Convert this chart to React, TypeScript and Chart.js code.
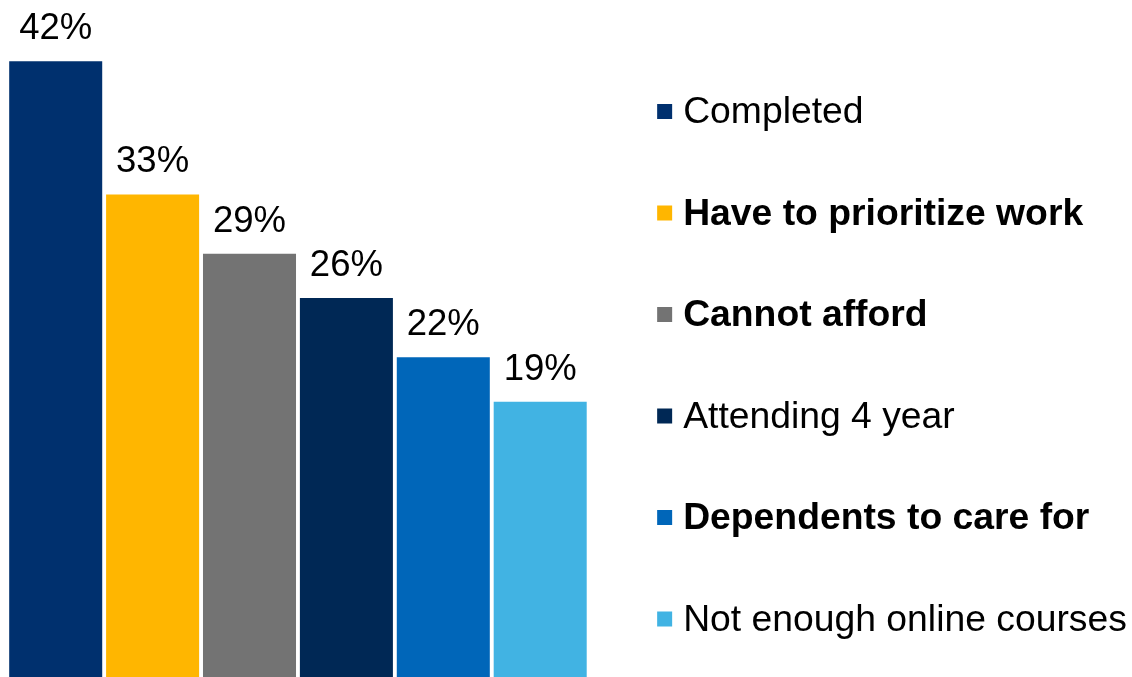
import React, { useEffect, useRef } from "react";
import { Chart, registerables } from "chart.js";

Chart.register(...registerables);

const categories = [
  "Completed",
  "Have to prioritize work",
  "Cannot afford",
  "Attending 4 year",
  "Dependents to care for",
  "Not enough online courses",
];
const values = [42, 33, 29, 26, 22, 19];
const colors = ["#00306E", "#FFB600", "#737373", "#002855", "#0066B9", "#41B3E3"];
const boldLegend = [false, true, true, false, true, false];
const valueLabels = values.map((v) => `${v}%`);

const FONT = "'Liberation Sans', Arial, Helvetica, sans-serif";

const labelPlugin = {
  id: "valueLabels",
  afterDatasetsDraw(chart: any) {
    const ctx = chart.ctx;
    const meta = chart.getDatasetMeta(0);
    ctx.save();
    ctx.font = `36.5px ${FONT}`;
    ctx.fillStyle = "#000000";
    ctx.textAlign = "center";
    ctx.textBaseline = "alphabetic";
    meta.data.forEach((el: any, i: number) => {
      ctx.fillText(valueLabels[i], el.x, el.y - 22);
    });
    ctx.restore();
  },
};

const legendPlugin = {
  id: "sideLegend",
  afterDraw(chart: any) {
    const ctx = chart.ctx;
    const left = chart.chartArea.right + 68.5;
    ctx.save();
    ctx.textAlign = "left";
    ctx.textBaseline = "alphabetic";
    categories.forEach((cat, i) => {
      const cy = 111.5 + 101.5 * i;
      ctx.fillStyle = colors[i];
      ctx.fillRect(left, cy - 7.5, 15, 15);
      ctx.fillStyle = "#000000";
      ctx.font = `${boldLegend[i] ? "bold " : ""}37.3px ${FONT}`;
      ctx.fillText(cat, left + 26, cy + 11.5);
    });
    ctx.restore();
  },
};

export default function App() {
  const ref = useRef<HTMLCanvasElement | null>(null);

  useEffect(() => {
    document.body.style.margin = "0";
    document.body.style.overflow = "hidden";
    const canvas = ref.current;
    if (!canvas) return;
    const chart = new Chart(canvas, {
      type: "bar",
      data: {
        labels: categories,
        datasets: [
          {
            data: values,
            backgroundColor: colors,
            borderWidth: 0,
            barPercentage: 0.96,
            categoryPercentage: 1,
          },
        ],
      },
      options: {
        responsive: false,
        animation: false,
        devicePixelRatio: 1,
        layout: { padding: { left: 7.25, right: 543.35, top: 2, bottom: 2 } },
        plugins: {
          legend: { display: false },
          tooltip: { enabled: false },
        },
        scales: {
          x: { display: false, grid: { display: false } },
          y: { display: false, min: 0, max: 46, grid: { display: false } },
        },
      },
      plugins: [labelPlugin, legendPlugin],
    });
    return () => chart.destroy();
  }, []);

  return (
    <div style={{ position: "relative", width: 1132, height: 677, overflow: "hidden", background: "#ffffff" }}>
      <canvas ref={ref} width={1132} height={685} style={{ display: "block" }} />
    </div>
  );
}
